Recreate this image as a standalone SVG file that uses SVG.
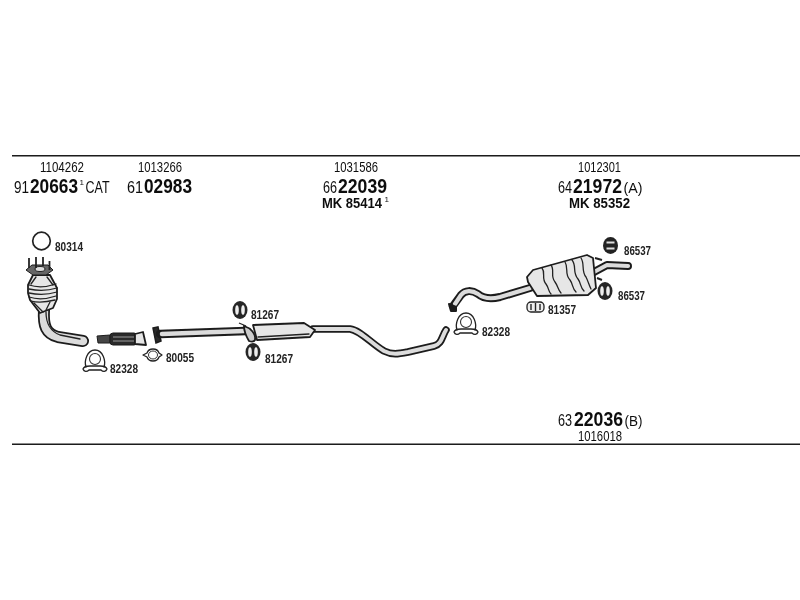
<svg xmlns="http://www.w3.org/2000/svg" width="800" height="600" viewBox="0 0 800 600">
<defs>
<style>
text{font-family:"Liberation Sans",Arial,sans-serif;fill:#111}
.n{font-size:14.5px}
.k{font-size:16px}
.b{font-size:19.5px;font-weight:bold}
.m{font-size:14px;font-weight:bold}
.s{font-size:13px;font-weight:bold;fill:#222}
.u{font-size:8px}
.rule{stroke:#1a1a1a;stroke-width:2;fill:none}
.o{fill:none;stroke:#1c1c1c;stroke-linecap:round;stroke-linejoin:round}
.i{fill:none;stroke:#dcdcdc;stroke-linecap:round;stroke-linejoin:round}
.l{fill:none;stroke:#222;stroke-width:1.3;stroke-linecap:round;stroke-linejoin:round}
.f{fill:#e6e6e6;stroke:#1c1c1c;stroke-width:1.8;stroke-linejoin:round}
</style>
<filter id="soft" x="0" y="0" width="100%" height="100%"><feGaussianBlur stdDeviation="0.35"/></filter>
<g id="hanger"><ellipse cx="0" cy="0" rx="7.500" ry="9" fill="#262626"/><ellipse cx="-3" cy="0" rx="1.800" ry="4.800" fill="#eee"/><ellipse cx="3" cy="0" rx="1.800" ry="4.800" fill="#eee"/></g>
<g id="hanger2"><ellipse cx="0" cy="0" rx="7.500" ry="8.500" fill="#222"/><path d="M-4 -3H4M-4 3H4" stroke="#ddd" stroke-width="2.200"/></g>
<g id="clamp"><path class="l" d="M-9 5C-11 -1 -8 -12 0 -12C8 -12 11 -1 9 5"/><circle cx="0" cy="-3" r="5.500" fill="none" stroke="#333" stroke-width="1.100"/><path class="l" d="M-12 7C-11 4 -7 4 -5 4H5C7 4 11 4 12 7C11 10 8 10 6 8H-6C-8 10 -11 10 -12 7Z"/></g>
</defs>
<g filter="url(#soft)">
<g id="rules"><path class="rule" d="M12 155.500H800"/><path class="rule" d="M12 444.500H800"/></g>

<g id="label-cat">
<text class="n" x="40" y="172" textLength="44" lengthAdjust="spacingAndGlyphs">1104262</text>
<text class="k" x="14" y="192.500" textLength="15" lengthAdjust="spacingAndGlyphs">91</text>
<text class="b" x="30" y="192.500" textLength="48" lengthAdjust="spacingAndGlyphs">20663</text>
<text class="u" x="79.500" y="185">1</text>
<text class="k" x="85.500" y="192.500" textLength="24" lengthAdjust="spacingAndGlyphs">CAT</text>
</g>
<g id="label-flex">
<text class="n" x="138" y="172" textLength="44" lengthAdjust="spacingAndGlyphs">1013266</text>
<text class="k" x="127" y="192.500" textLength="16" lengthAdjust="spacingAndGlyphs">61</text>
<text class="b" x="144" y="192.500" textLength="48" lengthAdjust="spacingAndGlyphs">02983</text>
</g>
<g id="label-mid">
<text class="n" x="334" y="172" textLength="44" lengthAdjust="spacingAndGlyphs">1031586</text>
<text class="k" x="323" y="192.500" textLength="14" lengthAdjust="spacingAndGlyphs">66</text>
<text class="b" x="338" y="192.500" textLength="49" lengthAdjust="spacingAndGlyphs">22039</text>
<text class="m" x="322" y="208" textLength="60" lengthAdjust="spacingAndGlyphs">MK 85414</text>
<text class="u" x="384.500" y="202">1</text>
</g>
<g id="label-rear">
<text class="n" x="578" y="172" textLength="43" lengthAdjust="spacingAndGlyphs">1012301</text>
<text class="k" x="558" y="192.500" textLength="14" lengthAdjust="spacingAndGlyphs">64</text>
<text class="b" x="573" y="192.500" textLength="49" lengthAdjust="spacingAndGlyphs">21972</text>
<text class="n" x="623.500" y="192.500" textLength="19" lengthAdjust="spacingAndGlyphs">(A)</text>
<text class="m" x="569" y="208" textLength="61" lengthAdjust="spacingAndGlyphs">MK 85352</text>
</g>
<g id="label-bottom">
<text class="k" x="558" y="425.500" textLength="14" lengthAdjust="spacingAndGlyphs">63</text>
<text class="b" x="574" y="425.500" textLength="49" lengthAdjust="spacingAndGlyphs">22036</text>
<text class="n" x="624.500" y="425.500" textLength="18" lengthAdjust="spacingAndGlyphs">(B)</text>
<text class="n" x="578" y="441" textLength="44" lengthAdjust="spacingAndGlyphs">1016018</text>
</g>

<g id="ring-80314">
<circle cx="41.500" cy="241" r="8.800" fill="none" stroke="#222" stroke-width="1.700"/>
<text class="s" x="55" y="251" textLength="28" lengthAdjust="spacingAndGlyphs">80314</text>
</g>

<g id="catalyst">
<path class="o" stroke-width="12" d="M44 310C43 326 46 334 58 337L83 341"/>
<path class="i" stroke-width="8.500" d="M44 310C43 326 46 334 58 337L83 341"/>
<path class="l" d="M46 312C46 324 50 331 60 335L80 339"/>
<path class="f" d="M33 275H50L57 288V299L53 308L40 313L30 300L28 293V285Z"/>
<path class="l" d="M29 285C38 288 47 287 56 284M29 289C38 291 47 291 57 288M29 293C38 295 47 295 57 292M29 297C38 300 47 299 56 296M31 301C38 303 47 302 55 300"/>
<path class="l" d="M36 277L31 284M47 277L53 285M34 303L43 312M50 302L46 310"/>
<path d="M26 270L32 265H48L53 270L46 275H33Z" fill="#666" stroke="#1c1c1c"/>
<ellipse cx="40" cy="269" rx="5" ry="2.500" fill="#ddd" stroke="#222"/>
<path d="M29 258V268M36 257V268M43 257V266M49.500 261V270" stroke="#222" stroke-width="1.800"/>
</g>

<g id="flex-pipe">
<path d="M97 336L110 335V343L98 343Z" fill="#444" stroke="#1c1c1c"/>
<rect x="110" y="333" width="27" height="12" rx="3" fill="#2c2c2c" stroke="#1c1c1c"/>
<path d="M113 337H134M113 341H134" stroke="#999" stroke-width="1"/>
<path class="f" d="M135 334L143 332L146 345L135 344Z"/>
</g>
<g id="clamp-left">
<use href="#clamp" x="95" y="362"/>
<text class="s" x="110" y="373" textLength="28" lengthAdjust="spacingAndGlyphs">82328</text>
</g>
<g id="gasket-80055">
<path class="l" d="M143 355L147 353C148 350 151 349 153 349C155 349 158 350 159 353L162 355L159 357C158 360 155 361 153 361C151 361 148 360 147 357Z"/>
<ellipse cx="153" cy="355" rx="4.500" ry="4" fill="none" stroke="#333" stroke-width="1"/>
<text class="s" x="166" y="362" textLength="28" lengthAdjust="spacingAndGlyphs">80055</text>
</g>

<g id="centre-pipe">
<path d="M153 328L158 327L161 341L156 343Z" fill="#2a2a2a" stroke="#1c1c1c" stroke-width="1.500"/>
<path class="o" stroke-width="8.500" d="M160 334L246 331"/>
<path class="i" stroke-width="4.500" d="M162 334L244 331"/>
<path d="M244 326C251 328 256 334 255 340C254 342 252 342 249 341C246 336 244 331 244 326Z" fill="#ccc" stroke="#1c1c1c" stroke-width="1.800"/>
<path d="M239 323L246 326" stroke="#222" stroke-width="1.200"/>
</g>
<g id="hanger-upper">
<use href="#hanger" x="240" y="310"/>
<text class="s" x="251" y="319" textLength="28" lengthAdjust="spacingAndGlyphs">81267</text>
</g>
<g id="hanger-lower">
<use href="#hanger" x="253" y="352"/>
<text class="s" x="265" y="363" textLength="28" lengthAdjust="spacingAndGlyphs">81267</text>
</g>

<g id="mid-muffler">
<path class="o" stroke-width="7.500" d="M313 329L350 329C360 330 372 344 384 351C392 355 398 354 408 352L434 346C442 344 442 336 446 330"/>
<path class="i" stroke-width="4" d="M313 329L350 329C360 330 372 344 384 351C392 355 398 354 408 352L434 346C442 344 442 336 446 330"/>
<path class="f" d="M253 325L304 323L315 330L310 337L257 340Z"/>
<path class="l" d="M258 337L309 334"/>
</g>
<g id="clamp-right">
<use href="#clamp" x="466" y="325"/>
<text class="s" x="482" y="336" textLength="28" lengthAdjust="spacingAndGlyphs">82328</text>
</g>

<g id="rear-muffler">
<path class="o" stroke-width="8" d="M453 306L461 295C465 290 472 290 478 294C484 299 492 299 500 297L530 288"/>
<path class="i" stroke-width="4.200" d="M455 304L461 295C465 290 472 290 478 294C484 299 492 299 500 297L530 288"/>
<path d="M449 304L456 307L456 311L451 311Z" fill="#1c1c1c" stroke="#1c1c1c" stroke-width="2" stroke-linejoin="round"/>
<path class="o" stroke-width="8" d="M594 272L607 265L628 266"/>
<path class="i" stroke-width="4.200" d="M594 272L607 265L628 266"/>
<path class="f" d="M527 277L533 270L587 255L593 258L596 288L588 295L537 296L528 282Z"/>
<path class="l" stroke-width="1.600" d="M542 268C546 273 541 278 546 284C549 288 548 291 551 294M551 265C555 270 550 276 555 282C558 286 558 290 561 293M565 262C569 268 564 274 570 280C573 284 572 288 576 292M572 260C577 266 572 272 578 279C581 283 580 287 584 291M581 258C585 264 581 271 586 277C588 281 589 285 591 289"/>
<path d="M595 258L602 260M597 278L602 280" stroke="#222" stroke-width="2"/>
</g>
<g id="hanger-86537-top">
<use href="#hanger2" x="610.500" y="245.500"/>
<text class="s" x="624" y="254.500" textLength="27" lengthAdjust="spacingAndGlyphs">86537</text>
</g>
<g id="hanger-86537-bottom">
<use href="#hanger" x="605" y="291"/>
<text class="s" x="618" y="299.500" textLength="27" lengthAdjust="spacingAndGlyphs">86537</text>
</g>
<g id="gasket-81357">
<rect x="527" y="302" width="17" height="10" rx="4" fill="#eee" stroke="#222" stroke-width="1.300"/>
<path d="M531 304V310M540 304V310M535.500 303V311" stroke="#222" stroke-width="1.400"/>
<text class="s" x="548" y="313.500" textLength="28" lengthAdjust="spacingAndGlyphs">81357</text>
</g>
</g>
</svg>
